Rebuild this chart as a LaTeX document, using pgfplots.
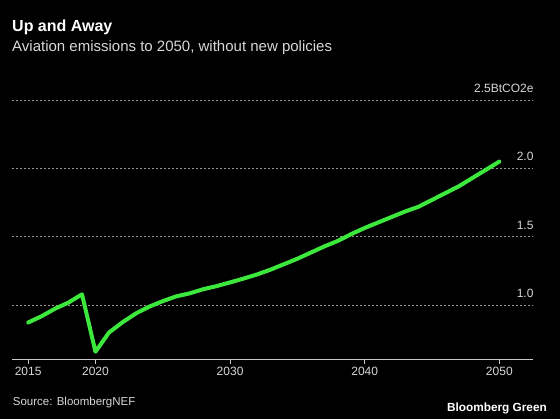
\documentclass[border=0pt]{standalone}
\usepackage{pgfplots}
\pgfplotsset{compat=1.18}
\usepackage{fontspec}
\setmainfont{Liberation Sans}
\definecolor{bggreen}{RGB}{60,232,60}
\definecolor{gridgray}{RGB}{150,150,150}
\definecolor{axisgray}{RGB}{200,200,200}
\definecolor{labelgray}{RGB}{215,215,215}
\begin{document}
\begin{tikzpicture}
\fill[black] (0pt,0pt) rectangle (560pt,419pt);
\useasboundingbox (0pt,0pt) rectangle (560pt,419pt);
\node[anchor=base west, text=white, font=\fontsize{16}{19}\selectfont\bfseries, inner sep=0] at (12pt,387pt) {Up and Away};
\node[anchor=base west, text=labelgray, font=\fontsize{15}{18}\selectfont, inner sep=0] at (12pt,367pt) {Aviation emissions to 2050, without new policies};
\node[anchor=base west, text=labelgray, font=\fontsize{11.5}{14}\selectfont, inner sep=0] at (12.7pt,13pt) {Source: BloombergNEF};
\node[anchor=base east, text=white, font=\fontsize{11.8}{14}\selectfont\bfseries, inner sep=0] at (547pt,7.3pt) {Bloomberg Green};
\begin{axis}[
  at={(12pt,59pt)}, anchor=south west,
  scale only axis, width=521pt, height=260pt,
  xmin=2013.8, xmax=2052.5, ymin=0.6, ymax=2.5,
  clip=false,
  axis x line*=bottom, axis y line*=right,
  x axis line style={-, axisgray, line width=1pt},
  y axis line style={draw=none},
  xtick={2015,2020,2030,2040,2050},
  x tick style={axisgray, line width=1pt},
  tick align=outside, major tick length=4pt,
  y tick style={draw=none},
  ytick={1,1.5,2,2.5},
  yticklabels={1.0,1.5,2.0,2.5BtCO2e},
  ymajorgrids,
  grid style={gridgray, dash pattern=on 2pt off 2pt, line width=0.8pt},
  /pgf/number format/assume math mode=true,
  /pgf/number format/set thousands separator={},
  xticklabel style={text=labelgray, font=\fontsize{12}{14}\selectfont},
  yticklabel style={text=labelgray, font=\fontsize{12}{14}\selectfont, anchor=south east, xshift=0pt, yshift=4pt},
]
\addplot[bggreen, line width=4pt, line join=round, line cap=round] coordinates {
(2015,0.874) (2016,0.92) (2017,0.975) (2018,1.02) (2019,1.08) (2020,0.66)
(2021,0.80) (2022,0.875) (2023,0.94) (2024,0.99) (2025,1.03) (2026,1.065)
(2027,1.087) (2028,1.117) (2029,1.14) (2030,1.167) (2031,1.195) (2032,1.225)
(2033,1.26) (2034,1.30) (2035,1.34) (2036,1.385) (2037,1.43) (2038,1.47)
(2039,1.52) (2040,1.565) (2041,1.605) (2042,1.645) (2043,1.685) (2044,1.72)
(2045,1.77) (2046,1.82) (2047,1.87) (2048,1.93) (2049,1.99) (2050,2.05)
};
\end{axis}
\end{tikzpicture}
\end{document}
